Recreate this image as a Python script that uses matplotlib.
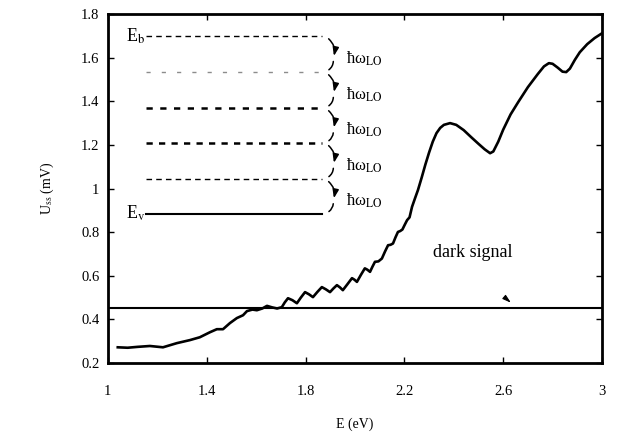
import matplotlib
matplotlib.use('Agg')
import matplotlib.pyplot as plt

# photovoltage curve (E in eV, U in mV)
energy = [1.04, 1.08, 1.12, 1.17, 1.223, 1.279, 1.332, 1.372, 1.413, 1.441, 1.466,
          1.494, 1.522, 1.547, 1.563, 1.585, 1.603, 1.625, 1.644, 1.665, 1.685, 1.704,
          1.716, 1.729, 1.747, 1.765, 1.781, 1.798, 1.814, 1.830, 1.848, 1.866, 1.882,
          1.899, 1.913, 1.927, 1.939, 1.951, 1.970, 1.988, 1.998, 2.008, 2.024, 2.040,
          2.050, 2.061, 2.071, 2.081, 2.095, 2.109, 2.122, 2.134, 2.144, 2.154, 2.164,
          2.174, 2.183, 2.192, 2.202, 2.211, 2.221, 2.231, 2.243, 2.255, 2.27, 2.285,
          2.30, 2.315, 2.33, 2.345, 2.36, 2.385, 2.41, 2.44, 2.47, 2.50, 2.525, 2.547,
          2.56, 2.58, 2.60, 2.63, 2.66, 2.70, 2.74, 2.765, 2.785, 2.80, 2.82, 2.84,
          2.855, 2.87, 2.89, 2.91, 2.94, 2.97, 3.0]
signal = [0.272, 0.270, 0.274, 0.278, 0.272, 0.291, 0.305, 0.318, 0.341, 0.355, 0.355,
          0.383, 0.406, 0.419, 0.438, 0.445, 0.442, 0.450, 0.462, 0.455, 0.450, 0.456,
          0.478, 0.497, 0.488, 0.474, 0.500, 0.525, 0.515, 0.502, 0.526, 0.548, 0.538,
          0.525, 0.542, 0.557, 0.547, 0.534, 0.562, 0.589, 0.582, 0.572, 0.604, 0.634,
          0.628, 0.618, 0.642, 0.664, 0.666, 0.679, 0.712, 0.740, 0.742, 0.748, 0.776,
          0.801, 0.805, 0.812, 0.835, 0.855, 0.868, 0.916, 0.955, 0.993, 1.05, 1.11,
          1.165, 1.215, 1.254, 1.278, 1.292, 1.300, 1.292, 1.268, 1.236, 1.205, 1.18, 1.162,
          1.17, 1.215, 1.27, 1.34, 1.395, 1.465, 1.525, 1.56, 1.575, 1.572, 1.555, 1.536,
          1.534, 1.55, 1.59, 1.625, 1.662, 1.69, 1.712]

dark_level = 0.45

# energy levels from E_b down to E_v
levels = [1.70, 1.535, 1.37, 1.21, 1.045, 0.885]
level_styles = [(0, (4, 3)), (0, (3, 8)), (0, (2.5, 3)), (0, (2.5, 2.5)), (0, (4, 3)), '-']
level_alpha = [1.0, 0.45, 1.0, 1.0, 1.0, 1.0]
level_width = [1.0, 1.0, 1.8, 1.8, 1.0, 1.5]

x_ticks = [1, 1.4, 1.8, 2.2, 2.6, 3]
x_ticklabels = ['1', '1.4', '1.8', '2.2', '2.6', '3']
y_ticks = [0.2, 0.4, 0.6, 0.8, 1.0, 1.2, 1.4, 1.6, 1.8]
y_ticklabels = ['0.2', '0.4', '0.6', '0.8', '1', '1.2', '1.4', '1.6', '1.8']

plt.rcParams['font.family'] = ['Liberation Serif', 'DejaVu Serif']
plt.rcParams['mathtext.fontset'] = 'stix'

fig = plt.figure(figsize=(6.2, 4.4), dpi=100)
ax = fig.add_axes([0.174, 0.175, 0.797, 0.793])

ax.plot(energy, signal, color='black', lw=1.9, solid_joinstyle='round')
ax.axhline(dark_level, color='black', lw=1.5)

x0, x1 = 1.155, 1.868
for lev, ls, al, lw in zip(levels, level_styles, level_alpha, level_width):
    ax.plot([x0, x1], [lev, lev], color='black', ls=ls, lw=lw, alpha=al)

ax.text(x0 - 0.005, levels[0], r'E$_{\rm b}$', ha='right', va='center', fontsize=13)
ax.text(x0 - 0.005, levels[-1], r'E$_{\rm v}$', ha='right', va='center', fontsize=13)

# braces with down arrows between neighbouring levels
for top, bot in zip(levels[:-1], levels[1:]):
    mid = (top + bot) / 2 - 0.01
    ax.annotate('', xy=(1.912, mid - 0.012), xytext=(1.885, top - 0.005),
                arrowprops=dict(arrowstyle='-|>,head_length=0.5,head_width=0.18',
                                color='black', lw=1.1,
                                connectionstyle='arc3,rad=-0.35'))
    ax.annotate('', xy=(1.885, bot + 0.003), xytext=(1.912, mid - 0.012),
                arrowprops=dict(arrowstyle='-', color='black', lw=1.1,
                                connectionstyle='arc3,rad=-0.35'))
    ax.text(1.965, mid - 0.012, 'ħω$_{\\rm LO}$', ha='left', va='center',
            fontsize=12)

ax.text(2.315, 0.705, 'dark signal', ha='left', va='center', fontsize=13)
ax.annotate('', xy=(2.64, 0.468), xytext=(2.612, 0.495),
            arrowprops=dict(arrowstyle='-|>,head_length=0.5,head_width=0.15',
                            color='black', lw=0.8))

ax.set_xlim(1, 3)
ax.set_ylim(0.2, 1.8)
ax.set_xticks(x_ticks)
ax.set_xticklabels(x_ticklabels, fontsize=10.5)
ax.set_yticks(y_ticks)
ax.set_yticklabels(y_ticklabels, fontsize=10.5)
ax.tick_params(direction='in', length=4, width=1, top=True, right=True)
ax.tick_params(axis='x', pad=16)
ax.tick_params(axis='y', pad=6)
for sp in ax.spines.values():
    sp.set_linewidth(2)

ax.set_xlabel('E (eV)', fontsize=10, labelpad=14)
ax.set_ylabel(r'U$_{\rm ss}$ (mV)', fontsize=10, labelpad=18)

fig.savefig('out.png', dpi=100, facecolor='white')
